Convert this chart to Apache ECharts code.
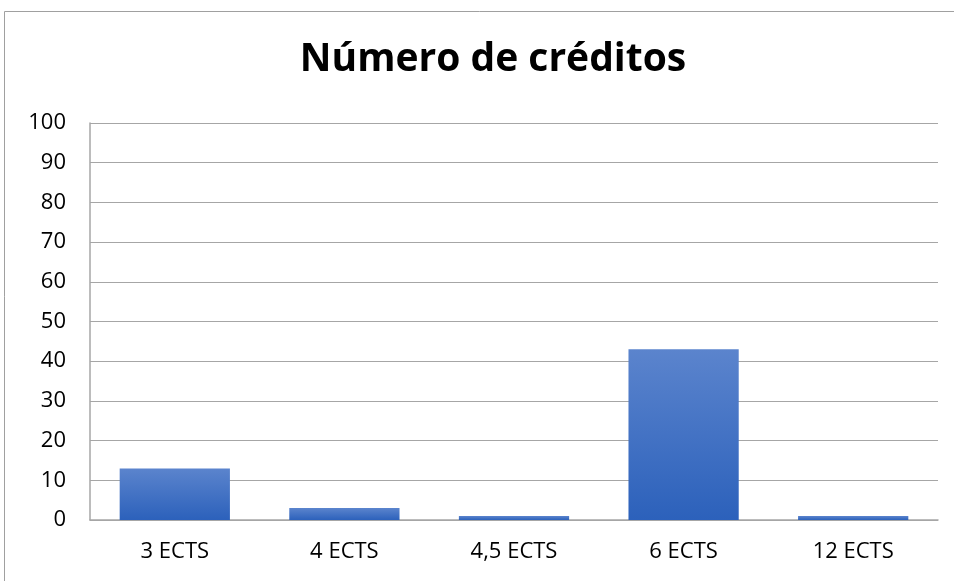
<!DOCTYPE html>
<html>
<head>
<meta charset="utf-8">
<script src="https://cdn.jsdelivr.net/npm/echarts@6/dist/echarts.min.js"></script>
<style>
html, body { margin: 0; padding: 0; background: #fff; }
#chart { width: 954px; height: 581px; }
</style>
</head>
<body>
<div id="chart"></div>
<script>
var categories = ['3 ECTS', '4 ECTS', '4,5 ECTS', '6 ECTS', '12 ECTS'];
var creditos = [13, 3, 1, 43, 1];
var yTicks = [0, 10, 20, 30, 40, 50, 60, 70, 80, 90, 100];

var myChart = echarts.init(document.getElementById('chart'));
myChart.setOption({
    animation: false,
    title: {
        text: 'Número de créditos',
        left: 488,
        top: 35,
        textAlign: 'center',
        textStyle: {
            fontFamily: 'Open Sans',
            fontWeight: 'bold',
            fontSize: 39,
            color: '#000'
        }
    },
    graphic: [
        {
            type: 'rect',
            shape: { x: 4.5, y: 11.5, width: 1000, height: 1000 },
            style: { fill: 'none', stroke: '#a0a0a0', lineWidth: 1 }
        }
    ],
    grid: {
        left: 90,
        right: 16,
        top: 123,
        bottom: 61
    },
    xAxis: {
        type: 'category',
        data: categories,
        axisTick: { show: false },
        axisLine: { lineStyle: { color: '#a6a6a6', width: 1.5 } },
        axisLabel: {
            margin: 21,
            color: '#000',
            fontFamily: 'Open Sans',
            fontSize: 22
        }
    },
    yAxis: {
        type: 'value',
        min: yTicks[0],
        max: yTicks[yTicks.length - 1],
        interval: 10,
        axisLine: { show: true, lineStyle: { color: '#a6a6a6', width: 1.5 } },
        axisTick: { show: false },
        splitLine: { lineStyle: { color: '#a6a6a6', width: 1 } },
        axisLabel: {
            margin: 24,
            color: '#000',
            fontFamily: 'Open Sans',
            fontSize: 22
        }
    },
    series: [
        {
            type: 'bar',
            data: creditos,
            barWidth: '65%',
            itemStyle: {
                color: new echarts.graphic.LinearGradient(0, 0, 0, 1, [
                    { offset: 0, color: '#5b84cd' },
                    { offset: 1, color: '#2c61bb' }
                ])
            }
        }
    ]
});
</script>
</body>
</html>
